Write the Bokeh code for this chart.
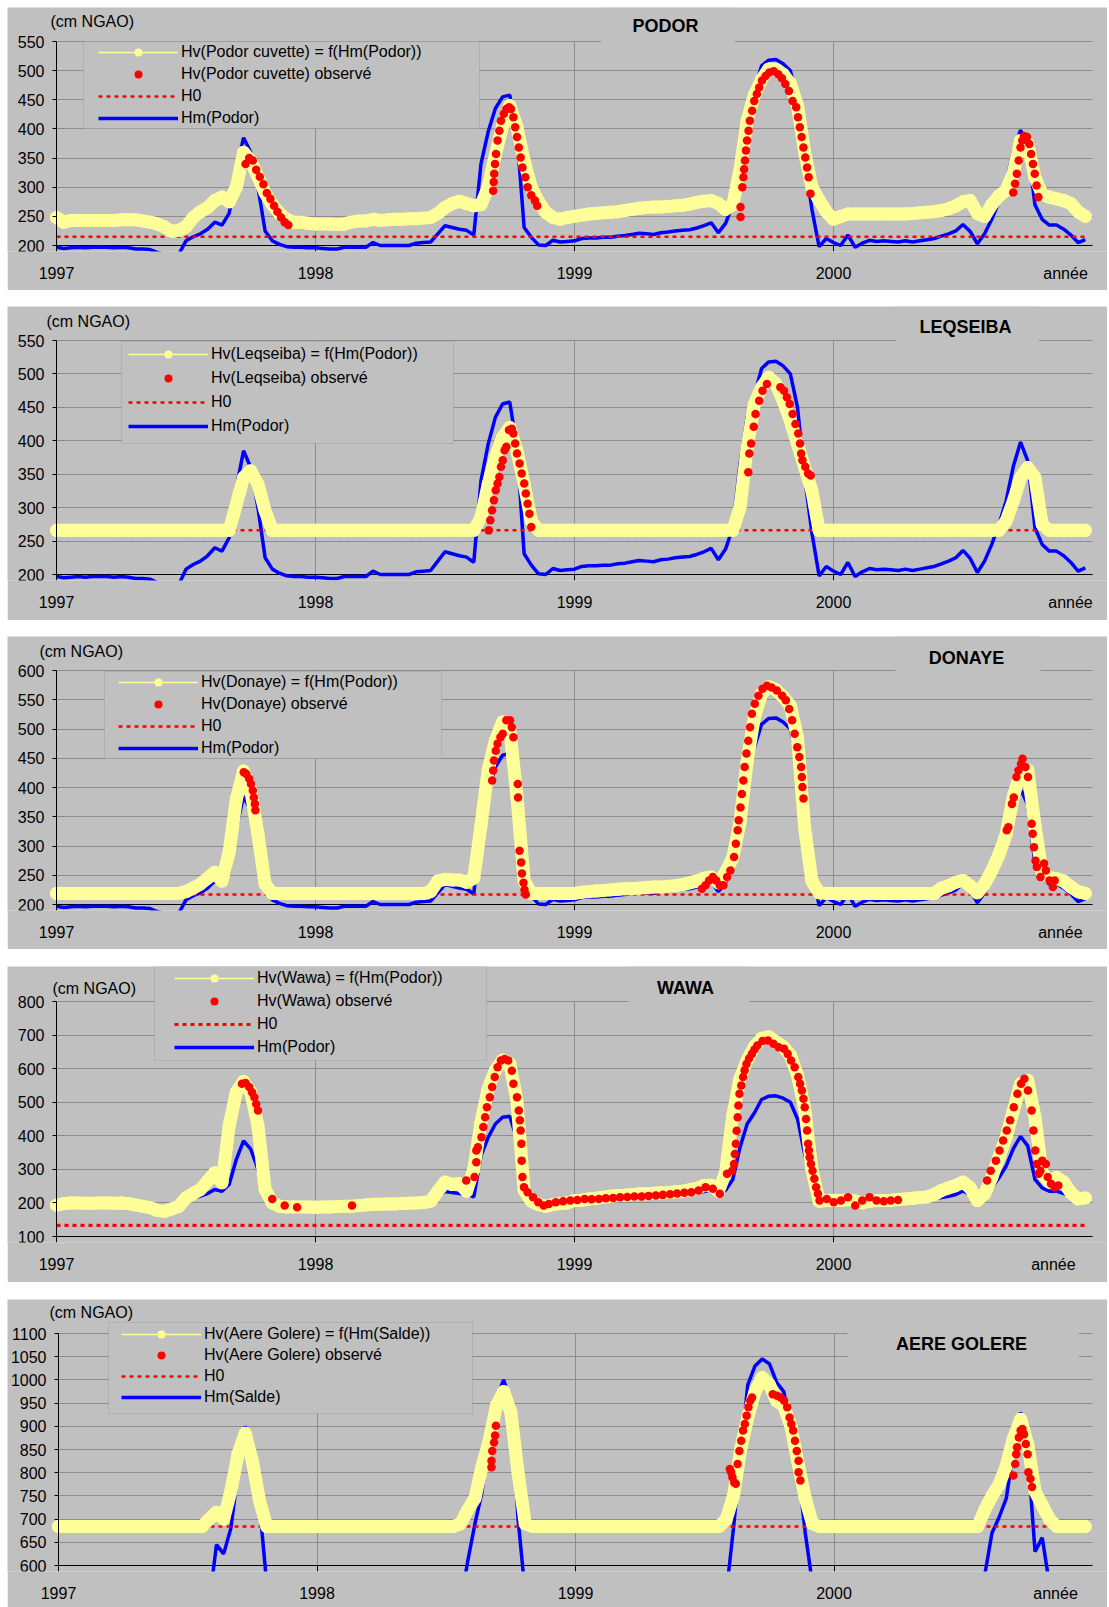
import numpy as np
from bokeh.plotting import figure
from bokeh.models import Range1d, FixedTicker, Legend, LegendItem, Label, BoxAnnotation, Grid
from bokeh.layouts import column
from bokeh.embed import file_html
from bokeh.resources import INLINE

# ---------------------------------------------------------------------------
# Water levels (cm NGAO), one value every 10 days from 1997 to 2000
# ---------------------------------------------------------------------------
N_STEPS = 144
t = 1997 + np.arange(N_STEPS) / 36.0

HM_PODOR = [
    197, 195, 196, 197, 196, 197, 197, 197, 196, 197, 196, 194, 194, 193, 188, 185, 182, 185, 208, 215,
    220, 228, 240, 235, 255, 330, 385, 360, 300, 225, 208, 202, 198, 197, 197, 196,
    196, 195, 194, 194, 197, 197, 197, 197, 205, 200, 200, 200, 200, 200, 204, 205, 206, 220, 234, 231,
    228, 226, 218, 340, 395, 435, 455, 458, 390, 231, 214, 201, 200, 209, 206, 207,
    208, 212, 213, 213, 214, 214, 216, 217, 219, 221, 220, 219, 222, 223, 225, 226, 227, 230, 234, 239,
    222, 238, 270, 365, 435, 468, 508, 518, 519, 512, 500, 450, 345, 262, 198, 212,
    205, 200, 218, 197, 204, 209, 207, 208, 207, 206, 208, 206, 208, 210, 212, 216, 220, 225, 236, 224,
    203, 220, 245, 275, 310, 362, 398, 370, 270, 245, 235, 235, 228, 218, 205, 210]

HM_SALDE = ([None] * 21 + [520, 645, 625, 680, 800, 900, 840, 730, 560]
            + [None] * 26 + [520, 610, 690, 760, 880, 960, 1000, 950, 700, 540]
            + [None] * 27 + [540, 680, 840, 990, 1030, 1045, 1035, 995, 975, 900, 810, 670, 560]
            + [None] * 23 + [580, 670, 704, 745, 850, 930, 840, 630, 660, 560]
            + [None] * 5)

YEL_PODOR = [
    248, 240, 243, 243, 243, 243, 243, 243, 243, 244, 244, 244, 242, 240, 237, 232, 224, 226, 232, 248,
    258, 265, 277, 283, 275, 300, 360, 345, 318, 290, 270, 255, 245, 240, 240, 238,
    237, 237, 237, 236, 237, 240, 242, 242, 245, 243, 244, 245, 245, 246, 246, 247, 248, 255, 265, 272,
    276, 272, 268, 270, 300, 355, 405, 440, 403, 345, 300, 275, 257, 248, 245, 248,
    250, 252, 254, 255, 256, 257, 258, 260, 262, 264, 265, 266, 266, 267, 268, 269, 271, 274, 276, 277,
    272, 262, 270, 330, 415, 458, 485, 503, 502, 494, 478, 440, 360, 300, 278, 258,
    245, 250, 254, 254, 254, 254, 254, 254, 254, 254, 254, 255, 256, 257, 258, 260, 263, 268, 275, 277,
    255, 250, 270, 285, 295, 325, 380, 375, 317, 288, 283, 280, 277, 272, 258, 250]

YEL_LEQSEIBA = ([266] * 25 + [305, 345, 355, 335, 295]
                + [266] * 29 + [285, 335, 375, 405, 420, 385, 335, 280]
                + [266] * 28 + [300, 390, 455, 480, 495, 485, 460, 430, 395, 360, 325]
                + [266] * 26 + [280, 310, 345, 360, 345, 275]
                + [266] * 6)

YEL_DONAYE = ([219] * 18 + [222, 228, 235, 245, 255, 240, 290, 380, 428, 395, 320, 235]
              + [219] * 22 + [222, 240, 243, 242, 242, 238, 245, 335, 430, 480, 512, 500, 385, 240]
              + [219] * 6
              + [219, 221, 222, 223, 224, 225, 226, 227, 227, 228, 229, 230, 230, 231, 232, 234, 237, 240,
                 245, 247, 237, 255, 280, 340, 445, 520, 560, 572, 567, 555, 540, 485, 330, 240, 220, 219]
              + [219] * 15
              + [228, 232, 238, 241, 232, 220, 235, 258, 285, 320, 385, 425, 430, 335, 255, 246, 244, 240,
                 230, 222, 219])

YEL_WAWA = [
    193, 198, 200, 200, 199, 199, 200, 200, 199, 200, 198, 194, 190, 186, 178, 175, 182, 190, 215, 228,
    240, 265, 290, 260, 430, 530, 562, 530, 430, 240, 200, 190, 188, 188, 188, 188,
    187, 188, 188, 189, 190, 190, 192, 194, 196, 196, 197, 197, 198, 199, 200, 201, 205, 235, 262, 255,
    258, 235, 300, 440, 540, 595, 625, 615, 505, 237, 205, 195, 190, 195, 198, 200,
    207, 208, 212, 214, 217, 220, 222, 223, 225, 227, 227, 229, 230, 231, 233, 235, 239, 243, 252, 253,
    235, 290, 460, 570, 625, 665, 690, 695, 680, 665, 640, 580, 480, 300, 205, 207,
    208, 207, 210, 206, 200, 205, 207, 207, 208, 210, 212, 214, 216, 218, 225, 237, 245, 252, 262, 245,
    207, 227, 276, 336, 396, 475, 555, 565, 455, 290, 262, 276, 262, 230, 212, 215]

YEL_AERE = ([684] * 21 + [700, 715, 700, 760, 840, 885, 825, 740]
            + [684] * 27 + [690, 720, 745, 815, 870, 945, 975, 930, 800, 690]
            + [684] * 27 + [700, 750, 850, 920, 975, 1005, 990, 955, 945, 900, 820, 745, 690]
            + [684] * 23 + [720, 750, 775, 815, 875, 915, 860, 760, 730, 700]
            + [684] * 5)

# Observed levels in the depressions (decimal year, cm NGAO)
OBS_T_PODOR = [
    1997.730, 1997.744, 1997.758, 1997.771, 1997.785, 1997.799, 1997.812, 1997.826, 1997.840, 1997.853,
    1997.867, 1997.881, 1997.895,
    1998.686, 1998.688, 1998.690, 1998.693, 1998.697, 1998.703, 1998.710, 1998.716, 1998.727, 1998.737,
    1998.747, 1998.755, 1998.764, 1998.771, 1998.778, 1998.785, 1998.792, 1998.799, 1998.810, 1998.819,
    1998.833, 1998.847, 1998.856,
    1999.641, 1999.641, 1999.648, 1999.652, 1999.655, 1999.658, 1999.662, 1999.666, 1999.672, 1999.677,
    1999.686, 1999.694, 1999.704, 1999.713, 1999.724, 1999.738, 1999.752, 1999.769, 1999.787, 1999.801,
    1999.814, 1999.828, 1999.842, 1999.856, 1999.863, 1999.870, 1999.877, 1999.884, 1999.891, 1999.898,
    1999.904, 1999.911,
    2000.694, 2000.701, 2000.708, 2000.715, 2000.722, 2000.729, 2000.735, 2000.747, 2000.756, 2000.763,
    2000.770, 2000.777, 2000.784, 2000.791]
OBS_V_PODOR = [
    340, 350, 346, 330, 318, 305, 290, 280, 268, 258, 248, 240, 235,
    294, 309, 323, 340, 357, 380, 397, 414, 426, 434, 437, 434, 420, 403, 386, 368, 351, 334, 317, 300,
    286, 277, 268,
    249, 266, 300, 317, 331, 346, 363, 380, 397, 414, 431, 448, 460, 471, 483, 491, 497, 499, 494, 487,
    477, 465, 448, 437, 420, 403, 386, 368, 351, 334, 317, 289,
    291, 306, 323, 346, 368, 380, 388, 386, 374, 357, 340, 323, 303, 283]

OBS_T_LEQSEIBA = [
    1998.669, 1998.675, 1998.682, 1998.689, 1998.696, 1998.703, 1998.710, 1998.716, 1998.723, 1998.730,
    1998.737, 1998.747, 1998.758, 1998.764, 1998.771, 1998.778, 1998.788, 1998.796, 1998.806, 1998.812,
    1998.819, 1998.826, 1998.833,
    1999.671, 1999.675, 1999.682, 1999.692, 1999.699, 1999.713, 1999.726, 1999.743, 1999.795, 1999.809,
    1999.820, 1999.831, 1999.842, 1999.853, 1999.864, 1999.871, 1999.875, 1999.880, 1999.891, 1999.902,
    1999.912]
OBS_V_LEQSEIBA = [
    266, 281, 296, 311, 326, 336, 346, 361, 371, 386, 391, 416, 418, 411, 396, 381, 366, 351, 336, 321,
    306, 291, 271,
    353, 381, 396, 421, 440, 460, 475, 485, 480, 475, 465, 455, 440, 425, 411, 396, 381, 371, 361, 351,
    348]

OBS_T_DONAYE = [
    1997.723, 1997.733, 1997.744, 1997.751, 1997.758, 1997.762, 1997.766, 1997.768,
    1998.682, 1998.686, 1998.689, 1998.696, 1998.703, 1998.714, 1998.723, 1998.737, 1998.751, 1998.758,
    1998.764, 1998.781, 1998.782, 1998.788, 1998.794, 1998.797, 1998.803, 1998.807, 1998.812,
    1999.492, 1999.506, 1999.520, 1999.534, 1999.547, 1999.561, 1999.575, 1999.589, 1999.602, 1999.616,
    1999.623, 1999.630, 1999.634, 1999.641, 1999.646, 1999.652, 1999.657, 1999.664, 1999.671, 1999.678,
    1999.685, 1999.696, 1999.710, 1999.726, 1999.743, 1999.761, 1999.781, 1999.802, 1999.816, 1999.829,
    1999.840, 1999.850, 1999.860, 1999.868, 1999.875, 1999.878, 1999.880, 1999.884,
    2000.669, 2000.675, 2000.689, 2000.696, 2000.706, 2000.714, 2000.724, 2000.730, 2000.741, 2000.751,
    2000.765, 2000.769, 2000.774, 2000.780, 2000.785, 2000.799, 2000.813, 2000.820, 2000.834, 2000.847,
    2000.854]
OBS_V_DONAYE = [
    426, 423, 415, 406, 395, 383, 372, 361,
    412, 429, 446, 463, 475, 486, 492, 515, 515, 503, 486, 406, 383, 292, 272, 253, 237, 225, 217,
    227, 233, 241, 247, 241, 233, 233, 247, 258, 281, 304, 327, 344, 366, 389, 412, 435, 458, 480, 503,
    526, 543, 557, 569, 574, 571, 566, 557, 549, 534, 515, 492, 469, 452, 435, 418, 401, 381,
    327, 332, 372, 383, 418, 429, 440, 449, 435, 418, 338, 321, 298, 275, 264, 247, 270, 258, 241, 230,
    241]

OBS_T_WAWA = [
    1997.716, 1997.730, 1997.744, 1997.755, 1997.764, 1997.771, 1997.778, 1997.833, 1997.881, 1997.929,
    1998.141,
    1998.582, 1998.614, 1998.621, 1998.621, 1998.627, 1998.641, 1998.648, 1998.655, 1998.662, 1998.673,
    1998.682, 1998.692, 1998.703, 1998.716, 1998.730, 1998.744, 1998.758, 1998.764, 1998.778, 1998.785,
    1998.789, 1998.792, 1998.795, 1998.796, 1998.799, 1998.805, 1998.819, 1998.840, 1998.860, 1998.881,
    1998.901, 1998.928, 1998.956, 1998.984,
    1999.011, 1999.039, 1999.066, 1999.094, 1999.121, 1999.149, 1999.176, 1999.204, 1999.231, 1999.259,
    1999.286, 1999.314, 1999.341, 1999.369, 1999.396, 1999.424, 1999.451, 1999.479, 1999.506, 1999.534,
    1999.561, 1999.589, 1999.609, 1999.616, 1999.619, 1999.623, 1999.626, 1999.630, 1999.633, 1999.637,
    1999.644, 1999.651, 1999.657, 1999.664, 1999.674, 1999.685, 1999.695, 1999.706, 1999.726, 1999.747,
    1999.768, 1999.788, 1999.809, 1999.823, 1999.836, 1999.850, 1999.864, 1999.871, 1999.878, 1999.884,
    1999.889, 1999.894, 1999.898, 1999.902, 1999.905, 1999.908, 1999.913, 1999.919, 1999.926, 1999.933,
    1999.940, 1999.946, 1999.974,
    2000.001, 2000.029, 2000.056, 2000.084, 2000.111, 2000.139, 2000.166, 2000.194, 2000.221, 2000.249,
    2000.593, 2000.607, 2000.627, 2000.641, 2000.655, 2000.669, 2000.682, 2000.696, 2000.710, 2000.724,
    2000.737, 2000.751, 2000.765, 2000.772, 2000.779, 2000.785, 2000.792, 2000.799, 2000.806, 2000.820,
    2000.827, 2000.840, 2000.854, 2000.868]
OBS_V_WAWA = [
    555, 557, 545, 530, 515, 495, 475, 212, 192, 187,
    192,
    267, 277, 321, 356, 366, 396, 426, 455, 485, 515,
    545, 575, 604, 624, 629, 624, 594, 555, 515, 475,
    446, 416, 376, 326, 277, 247, 232, 217, 202, 192,
    197, 202, 205, 207,
    209, 212, 211, 212, 214, 215, 217, 218, 219, 219,
    221, 222, 224, 226, 228, 230, 232, 237, 247, 242,
    227, 287, 296, 316, 346, 376, 415, 455, 490, 525,
    550, 575, 595, 614, 630, 644, 657, 669, 682, 684,
    674, 664, 659, 644, 624, 604, 575, 555, 535, 510,
    485, 450, 416, 376, 356, 336, 316, 296, 272, 247,
    227, 207, 212,
    202, 207, 217, 192, 207, 217, 207, 205, 207, 209,
    267, 296, 326, 356, 386, 416, 446, 485, 525, 555,
    570, 535, 475, 416, 356, 316, 287, 296, 326, 316,
    277, 257, 247, 252]

OBS_T_AERE = [
    1998.675, 1998.675, 1998.678, 1998.685, 1998.689, 1998.692,
    1999.597, 1999.602, 1999.607, 1999.614, 1999.620, 1999.627, 1999.634, 1999.641, 1999.648, 1999.655,
    1999.662, 1999.669, 1999.676, 1999.683, 1999.763, 1999.780, 1999.794, 1999.807, 1999.819, 1999.828,
    1999.835, 1999.842, 1999.849, 1999.856, 1999.863, 1999.863, 1999.870,
    2000.694, 2000.701, 2000.705, 2000.708, 2000.715, 2000.722, 2000.729, 2000.735, 2000.742, 2000.749,
    2000.752, 2000.760, 2000.766]
OBS_V_AERE = [
    812, 826, 847, 865, 880, 901,
    808, 801, 790, 779, 776, 819, 847, 869, 891, 905, 923, 941, 955, 962, 969, 966, 962, 955, 941, 919,
    905, 891, 869, 847, 826, 801, 783,
    794, 819, 840, 855, 876, 891, 894, 883, 862, 840, 801, 787, 769]

# Threshold level H0 of each depression
H0 = {"PODOR": 215, "LEQSEIBA": 266, "DONAYE": 217, "WAWA": 133, "AERE GOLERE": 684}

YEAR_TICKS = [1997, 1998, 1999, 2000]

# ---------------------------------------------------------------------------
# Page geometry (absolute pixels on the page) for the five stacked charts
# ---------------------------------------------------------------------------
GRAY = "#c0c0c0"
GRID = "#8c8c8c"
FONT = "Liberation Sans"
YELLOW = "#ffff99"
FIG_LEFT = 7
FIG_WIDTH = 1100
FRAME_RIGHT = 1092
EXT = 6  # the data area runs a few pixels below the lowest tick

PANELS = [
    dict(name="PODOR", gap=7, height=283, frame_top=41, axis=245, frame_left=56,
         lo=200, hi=550, step=50, yel=YEL_PODOR, hm=HM_PODOR, h0_width=2.5,
         obs_t=OBS_T_PODOR, obs_v=OBS_V_PODOR,
         labels=["Hv(Podor cuvette) = f(Hm(Podor))", "Hv(Podor cuvette) observé", "H0", "Hm(Podor)"],
         legend=dict(glyph_x=98, first=52, spacing=2, box=(83, 479, 41, 128)),
         title=dict(cx=665, cy=25, box=(601, 734, 7, 42)),
         unit=dict(x=50, cy=21), annee=1065),
    dict(name="LEQSEIBA", gap=16, height=314, frame_top=340, axis=574, frame_left=56,
         lo=200, hi=550, step=50, yel=YEL_LEQSEIBA, hm=HM_PODOR, h0_width=2.5,
         obs_t=OBS_T_LEQSEIBA, obs_v=OBS_V_LEQSEIBA,
         labels=["Hv(Leqseiba) = f(Hm(Podor))", "Hv(Leqseiba) observé", "H0", "Hm(Podor)"],
         legend=dict(glyph_x=128, first=354, spacing=4, box=(121, 453, 341, 443)),
         title=dict(cx=965, cy=326, box=(895, 1038, 306, 341)),
         unit=dict(x=46, cy=321), annee=1070),
    dict(name="DONAYE", gap=16, height=313, frame_top=670, axis=904, frame_left=56,
         lo=200, hi=600, step=50, yel=YEL_DONAYE, hm=HM_PODOR, h0_width=2.5,
         obs_t=OBS_T_DONAYE, obs_v=OBS_V_DONAYE,
         labels=["Hv(Donaye) = f(Hm(Podor))", "Hv(Donaye) observé", "H0", "Hm(Podor)"],
         legend=dict(glyph_x=118, first=682, spacing=2, box=(104, 441, 671, 758)),
         title=dict(cx=966, cy=657, box=(895, 1040, 636, 671)),
         unit=dict(x=39, cy=651), annee=1060),
    dict(name="WAWA", gap=17, height=316, frame_top=1001, axis=1236, frame_left=56,
         lo=100, hi=800, step=100, yel=YEL_WAWA, hm=HM_PODOR, h0_width=3.2,
         obs_t=OBS_T_WAWA, obs_v=OBS_V_WAWA,
         labels=["Hv(Wawa) = f(Hm(Podor))", "Hv(Wawa) observé", "H0", "Hm(Podor)"],
         legend=dict(glyph_x=174, first=978, spacing=3, box=(154, 486, 966, 1060)),
         title=dict(cx=685, cy=987, box=(628, 749, 966, 1002)),
         unit=dict(x=52, cy=988), annee=1053),
    dict(name="AERE GOLERE", gap=17, height=308, frame_top=1333, axis=1565, frame_left=58,
         lo=600, hi=1100, step=50, yel=YEL_AERE, hm=HM_SALDE, h0_width=2.5,
         obs_t=OBS_T_AERE, obs_v=OBS_V_AERE,
         labels=["Hv(Aere Golere) = f(Hm(Salde))", "Hv(Aere Golere) observé", "H0", "Hm(Salde)"],
         legend=dict(glyph_x=121, first=1334, spacing=1, box=(108, 472, 1322, 1413)),
         title=dict(cx=961, cy=1343, box=(847, 1078, 1326, 1359)),
         unit=dict(x=49, cy=1312), annee=1055),
]


def to_array(values):
    return np.array([np.nan if v is None else v for v in values], dtype=float)


def make_panel(cfg, fig_top):
    lo, hi = cfg["lo"], cfg["hi"]
    ftop, axis, fleft = cfg["frame_top"], cfg["axis"], cfg["frame_left"]
    px_per_year = (FRAME_RIGHT - fleft) / 4.0
    units_per_px = (hi - lo) / float(axis - ftop)

    def tx(px):
        return 1997 + (px - fleft) / px_per_year

    def vy(py):
        return hi - (py - ftop) * units_per_px

    # the drawing area covers the whole box except the strip with the year labels
    area_bottom = axis + EXT
    border_bottom = cfg["height"] - (area_bottom - fig_top)
    x_end = tx(FIG_LEFT + FIG_WIDTH)
    y_floor = vy(area_bottom)

    p = figure(width=FIG_WIDTH, height=cfg["height"], title=None,
               x_range=Range1d(tx(FIG_LEFT), x_end), y_range=Range1d(y_floor, vy(fig_top)),
               output_backend="svg", toolbar_location=None,
               min_border=0, min_border_left=0, min_border_right=0, min_border_top=0,
               min_border_bottom=border_bottom,
               background_fill_color=GRAY, border_fill_color=GRAY, outline_line_color=None)
    p.margin = (cfg["gap"], 0, 0, FIG_LEFT)

    yticks = list(range(lo, hi + 1, cfg["step"]))

    # default grids replaced by grids limited to the value area
    p.xgrid.visible = False
    p.ygrid.visible = False
    p.add_layout(Grid(dimension=0, ticker=FixedTicker(ticks=YEAR_TICKS), cross_bounds=(lo, hi),
                      grid_line_color=GRID))
    p.add_layout(Grid(dimension=1, ticker=FixedTicker(ticks=yticks), cross_bounds=(1997, 2001),
                      grid_line_color=GRID))
    # x axis line and small year ticks below it
    p.add_layout(Grid(dimension=1, ticker=FixedTicker(ticks=[lo]), cross_bounds=(1997, 2001),
                      grid_line_color="black"))
    p.add_layout(Grid(dimension=0, ticker=FixedTicker(ticks=YEAR_TICKS[1:]), cross_bounds=(y_floor, lo),
                      grid_line_color="black"))

    # year labels plus the axis name at the right end
    annee_t = round(tx(cfg["annee"]), 3)
    xa = p.xaxis[0]
    xa.ticker = FixedTicker(ticks=YEAR_TICKS + [annee_t])
    xa.major_label_overrides = {annee_t: "année"}
    xa.axis_line_color = None
    xa.major_tick_line_color = None
    xa.major_tick_in = 0
    xa.major_tick_out = 0
    xa.minor_tick_line_color = None
    xa.major_label_standoff = 13

    ya = p.yaxis[0]
    ya.fixed_location = 1997
    ya.bounds = (y_floor, hi)
    ya.ticker = FixedTicker(ticks=yticks)
    ya.axis_line_color = "black"
    ya.major_tick_line_color = "black"
    ya.minor_tick_line_color = None
    ya.major_tick_in = 0
    ya.major_tick_out = 4
    ya.major_label_standoff = 8

    for ax in (xa, ya):
        ax.major_label_text_font = FONT
        ax.major_label_text_font_size = "16px"
        ax.major_label_text_color = "black"

    # boxes behind the station name and the legend hide the grid lines there
    bl, br, bt, bb = cfg["title"]["box"]
    p.add_layout(BoxAnnotation(left=tx(bl), right=tx(br), top=vy(bt), bottom=vy(bb),
                               fill_color=GRAY, fill_alpha=1, line_color=None, level="underlay"))
    bl, br, bt, bb = cfg["legend"]["box"]
    p.add_layout(BoxAnnotation(left=tx(bl), right=tx(br), top=vy(bt), bottom=vy(bb),
                               fill_color=GRAY, fill_alpha=1, line_color="#8c8c8c", line_width=1,
                               level="underlay"))

    hm = p.line(t, to_array(cfg["hm"]), line_color="#0000ff", line_width=3.5)
    h0 = p.line(t, np.full(N_STEPS, H0[cfg["name"]], dtype=float), line_color="#ff0000",
                line_width=cfg["h0_width"], line_dash="4 4")
    yel = to_array(cfg["yel"])
    p.line(t, yel, line_color=YELLOW, line_width=13, line_join="round", line_cap="round")
    yel_line = p.line(t, yel, line_color=YELLOW, line_width=1.5)
    yel_dots = p.scatter(t, yel, marker="circle", size=13, fill_color=YELLOW, line_color=None)
    obs = p.scatter(cfg["obs_t"], cfg["obs_v"], marker="circle", size=8.5,
                    fill_color="#ff0000", line_color=None)

    lg = cfg["legend"]
    items = [LegendItem(label=cfg["labels"][0], renderers=[yel_line, yel_dots]),
             LegendItem(label=cfg["labels"][1], renderers=[obs]),
             LegendItem(label=cfg["labels"][2], renderers=[h0]),
             LegendItem(label=cfg["labels"][3], renderers=[hm])]
    leg_height = 4 * 20 + 3 * lg["spacing"]
    leg_bottom = lg["first"] - 10 + leg_height
    legend = Legend(items=items, location=(lg["glyph_x"] - FIG_LEFT, area_bottom - leg_bottom),
                    orientation="vertical", padding=0, margin=0, spacing=lg["spacing"],
                    glyph_width=80, glyph_height=20, label_height=20, label_standoff=3,
                    label_text_font=FONT, label_text_font_size="16px", label_text_color="black",
                    background_fill_alpha=0, border_line_color=None)
    p.add_layout(legend)

    p.add_layout(Label(x=tx(cfg["title"]["cx"]), y=vy(cfg["title"]["cy"]), text=cfg["name"],
                       text_font=FONT, text_font_size="18px", text_font_style="bold",
                       text_align="center", text_baseline="middle", text_color="black"))
    p.add_layout(Label(x=tx(cfg["unit"]["x"]), y=vy(cfg["unit"]["cy"]), text="(cm NGAO)",
                       text_font=FONT, text_font_size="16px", text_align="left",
                       text_baseline="middle", text_color="black"))
    return p


figs = []
top = 0
for cfg in PANELS:
    top += cfg["gap"]
    figs.append(make_panel(cfg, top))
    top += cfg["height"]

page = column(*figs, spacing=0)
open("out.html", "w").write(file_html(page, INLINE))
